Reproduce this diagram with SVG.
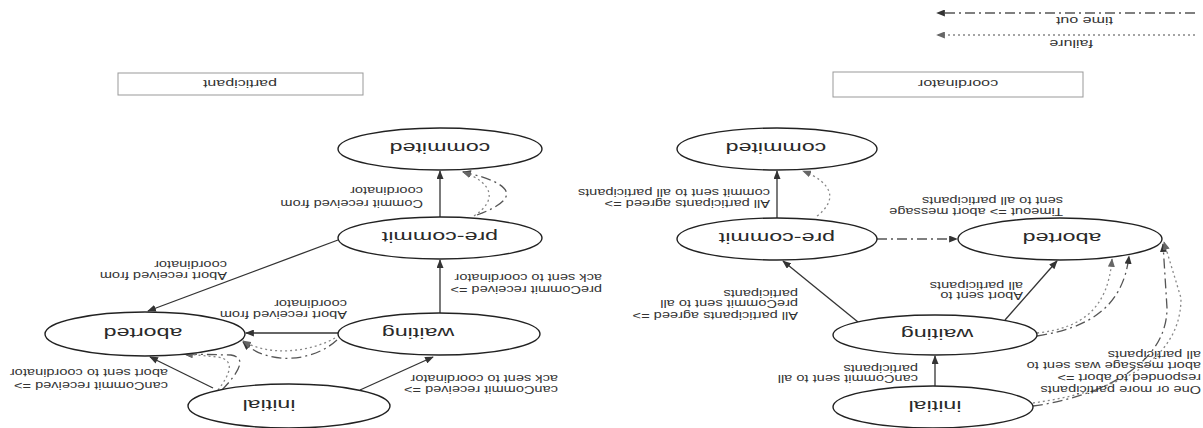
<svg xmlns="http://www.w3.org/2000/svg" width="1203" height="428" viewBox="0 0 1203 428">
<defs>
<marker id="ah" viewBox="0 0 10 8" refX="9" refY="4" markerWidth="9" markerHeight="7" markerUnits="userSpaceOnUse" orient="auto"><path d="M0,0 L10,4 L0,8 z" fill="#333"/></marker>
<marker id="ahg" viewBox="0 0 10 8" refX="9" refY="4" markerWidth="9" markerHeight="7" markerUnits="userSpaceOnUse" orient="auto"><path d="M0,0 L10,4 L0,8 z" fill="#666"/></marker>
</defs>
<style>
.node ellipse{fill:#fff;stroke:#222;stroke-width:1.4}
.node text{font-family:"Liberation Sans",Arial,sans-serif;font-size:15.5px;fill:#2a2a2a;text-anchor:middle}
.lbl{font-family:"Liberation Sans",Arial,sans-serif;font-size:10px;fill:#333}
.box rect{fill:none;stroke:#999;stroke-width:1}
.box text{font-family:"Liberation Sans",Arial,sans-serif;font-size:11px;fill:#333;text-anchor:middle}
.solid{fill:none;stroke:#333;stroke-width:1.3;marker-end:url(#ah)}
.tout{fill:none;stroke:#555;stroke-width:1.3;stroke-dasharray:10 4 2 4;marker-end:url(#ah)}
.fail{fill:none;stroke:#888;stroke-width:1.3;stroke-dasharray:2 3;marker-end:url(#ahg)}
</style>
<g transform="rotate(180 601.5 214)">
<g id="connectors">
<!-- participant -->
<path class="solid" d="M843,38 L770,71"/>
<path class="solid" d="M990,40 L1053,71"/>
<path class="tout" d="M981,38 C965,55 955,70 972,73 L1019,74"/>
<path class="fail" d="M985,38 C972,55 968,68 985,71 L1018,74"/>
<path class="solid" d="M865,95 L957,95"/>
<path class="tout" d="M866,88 C890,66 935,62 960,86"/>
<path class="fail" d="M868,90 C895,75 935,72 960,87"/>
<path class="solid" d="M763,115 L763,168"/>
<path class="solid" d="M865,188 L1055,117"/>
<path class="solid" d="M763,211 L763,257"/>
<path class="tout" d="M726,213 C680,230 690,245 740,256"/>
<path class="fail" d="M729,212 C705,228 710,245 740,256"/>
<!-- coordinator -->
<path class="solid" d="M268,42 L268,72"/>
<path class="solid" d="M345,106 L420,167"/>
<path class="solid" d="M198,108 L146,167"/>
<path class="tout" d="M326,189 L246,189"/>
<path class="solid" d="M426,210 L426,257"/>
<path class="fail" d="M386,212 C365,228 370,245 400,257"/>
<path class="fail" d="M166,95 C120,100 95,120 91,169"/>
<path class="tout" d="M166,92 C115,100 80,120 74,172"/>
<path class="tout" d="M170,22 C110,30 36,60 36,120 L40,184"/>
<path class="fail" d="M170,25 C100,35 22,60 22,130 L39,186"/>
<!-- legend -->
<path class="tout" d="M8,415 L266,415"/>
<path class="fail" d="M8,393 L266,393"/>
</g>
<g id="legend">
<text class="lbl" style="font-size:11px" transform="translate(90 411) scale(1.46 1)">time out</text>
<text class="lbl" style="font-size:11px" transform="translate(110 388) scale(1.46 1)">failure</text>
</g>
<g id="participant-box" class="box"><rect x="840" y="333" width="245" height="22"/><text transform="translate(963 348) scale(1.46 1)">participant</text></g>
<g id="coordinator-box" class="box"><rect x="120" y="331" width="250" height="25"/><text transform="translate(245 348) scale(1.46 1)">coordinator</text></g>
<g id="p-commited" class="node"><ellipse cx="763" cy="279" rx="102" ry="21"/><text transform="translate(763 285) scale(1.5 1)">commited</text></g>
<g id="p-precommit" class="node"><ellipse cx="763" cy="190" rx="102" ry="21"/><text transform="translate(763 196) scale(1.5 1)">pre-commit</text></g>
<g id="p-waiting" class="node"><ellipse cx="764" cy="94" rx="101" ry="21"/><text transform="translate(785 100) scale(1.5 1)">waiting</text></g>
<g id="p-aborted" class="node"><ellipse cx="1058" cy="94" rx="100" ry="22"/><text transform="translate(1060 100) scale(1.5 1)">aborted</text></g>
<g id="p-initial" class="node"><ellipse cx="914" cy="22" rx="101" ry="22"/><text transform="translate(934 28) scale(1.5 1)">initial</text></g>
<g id="c-commited" class="node"><ellipse cx="426" cy="279" rx="100" ry="21"/><text transform="translate(427 285) scale(1.5 1)">commited</text></g>
<g id="c-precommit" class="node"><ellipse cx="426" cy="189" rx="100" ry="21"/><text transform="translate(426 195) scale(1.5 1)">pre-commit</text></g>
<g id="c-aborted" class="node"><ellipse cx="143" cy="189" rx="102" ry="21"/><text transform="translate(141 195) scale(1.5 1)">aborted</text></g>
<g id="c-waiting" class="node"><ellipse cx="268" cy="93" rx="102" ry="20"/><text transform="translate(266 99) scale(1.5 1)">waiting</text></g>
<g id="c-initial" class="node"><ellipse cx="270" cy="21" rx="100" ry="21"/><text transform="translate(268 27) scale(1.5 1)">initial</text></g>
<g id="labels">
<text class="lbl" transform="translate(780 228.5) scale(1.46 1)">Commit received from</text>
<text class="lbl" transform="translate(780 241.5) scale(1.46 1)">coordinator</text>
<text class="lbl" transform="translate(976 156.5) scale(1.46 1)">Abort received from</text>
<text class="lbl" transform="translate(976 167.5) scale(1.46 1)">coordinator</text>
<text class="lbl" transform="translate(856 117.5) scale(1.46 1)">Abort received from</text>
<text class="lbl" transform="translate(856 128.5) scale(1.46 1)">coordinator</text>
<text class="lbl" transform="translate(1035 46.5) scale(1.46 1)">canCommit received =&gt;</text>
<text class="lbl" transform="translate(1035 59.5) scale(1.46 1)">abort sent to coordinator</text>
<text class="lbl" transform="translate(645 42.5) scale(1.46 1)">canCommit received =&gt;</text>
<text class="lbl" transform="translate(645 53.5) scale(1.46 1)">ack sent to coordinator</text>
<text class="lbl" transform="translate(601 142.5) scale(1.46 1)">preCommit received =&gt;</text>
<text class="lbl" transform="translate(601 154.5) scale(1.46 1)">ack sent to coordinator</text>
<text class="lbl" transform="translate(433 228.5) scale(1.46 1)">All participants agreed =&gt;</text>
<text class="lbl" transform="translate(433 239.5) scale(1.46 1)">commit sent to all participants</text>
<text class="lbl" transform="translate(140 220.5) scale(1.46 1)">Timeout =&gt; abort message</text>
<text class="lbl" transform="translate(140 231.5) scale(1.46 1)">sent to all participants</text>
<text class="lbl" transform="translate(405 116.5) scale(1.46 1)">All participants agreed =&gt;</text>
<text class="lbl" transform="translate(405 128.5) scale(1.46 1)">preCommit sent to all</text>
<text class="lbl" transform="translate(405 138.5) scale(1.46 1)">participants</text>
<text class="lbl" transform="translate(180 136.5) scale(1.46 1)">Abort sent to</text>
<text class="lbl" transform="translate(180 146.5) scale(1.46 1)">all participants</text>
<text class="lbl" transform="translate(2 42.5) scale(1.46 1)">One or more participants</text>
<text class="lbl" transform="translate(2 54.5) scale(1.46 1)">responded to abort =&gt;</text>
<text class="lbl" transform="translate(2 66.5) scale(1.46 1)">abort message was sent to</text>
<text class="lbl" transform="translate(2 77.5) scale(1.46 1)">all participants</text>
<text class="lbl" transform="translate(285 53.5) scale(1.46 1)">canCommit sent to all</text>
<text class="lbl" transform="translate(285 63.5) scale(1.46 1)">participants</text>
</g>
</g>
</svg>
